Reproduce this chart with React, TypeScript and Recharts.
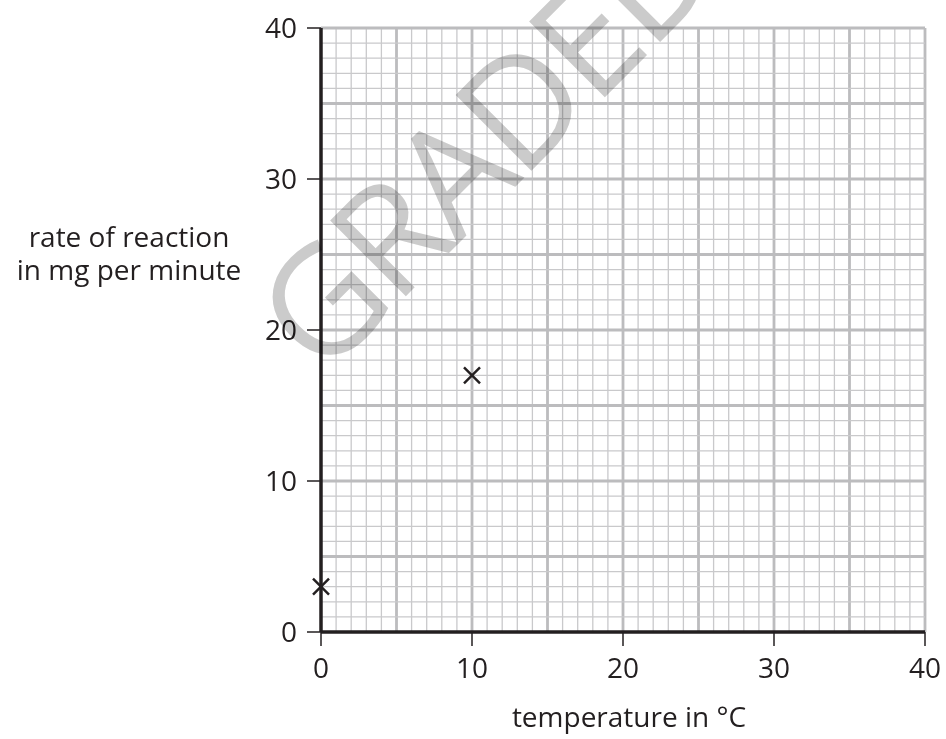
import React from "react";
import {
  ScatterChart,
  Scatter,
  XAxis,
  YAxis,
  ReferenceLine,
} from "recharts";

const temperatures = [0, 10];
const rates = [3, 17];
const xTicks = [0, 10, 20, 30, 40];
const yTicks = [0, 10, 20, 30, 40];
const xLabel = "temperature in °C";
const yLabelLines = ["rate of reaction", "in mg per minute"];
const watermark = "GRADED";

const points = temperatures.map((t, i) => ({ x: t, y: rates[i] }));
const gridValues = Array.from({ length: 40 }, (_, i) => i + 1);

const FONT = "'Open Sans', sans-serif";
const INK = "#231f20";

const Cross = (props: any) => {
  const { cx, cy } = props;
  const s = 8;
  return (
    <g stroke={INK} strokeWidth={2.5}>
      <line x1={cx - s} y1={cy - s} x2={cx + s} y2={cy + s} />
      <line x1={cx - s} y1={cy + s} x2={cx + s} y2={cy - s} />
    </g>
  );
};

const YLabel = () => (
  <text x={129} y={247} textAnchor="middle" fontFamily={FONT} fontSize={28} fill={INK}>
    <tspan x={129} y={247}>{yLabelLines[0]}</tspan>
    <tspan x={129} y={280}>{yLabelLines[1]}</tspan>
  </text>
);

const XLabel = () => (
  <text x={629} y={727} textAnchor="middle" fontFamily={FONT} fontSize={28} fill={INK}>
    {xLabel}
  </text>
);

export default function App() {
  return (
    <div style={{ position: "relative", width: 946, height: 739, overflow: "hidden", background: "#fff" }}>
      <style>{"body{margin:0}"}</style>
      <div style={{ position: "absolute", left: 0, top: 0, zIndex: 0 }}>
        <ScatterChart
          width={946}
          height={739}
          margin={{ top: 28, right: 21, bottom: 67, left: 261 }}
        >
          {gridValues.map((v) => (
            <ReferenceLine
              key={"v" + v}
              x={v}
              stroke={v % 5 === 0 ? "#bcbcbe" : "#c9c9cb"}
              strokeWidth={v % 5 === 0 ? 2.8 : 1.3}
            />
          ))}
          {gridValues.map((v) => (
            <ReferenceLine
              key={"h" + v}
              y={v}
              stroke={v % 5 === 0 ? "#bcbcbe" : "#c9c9cb"}
              strokeWidth={v % 5 === 0 ? 2.8 : 1.3}
            />
          ))}
          <XAxis
            type="number"
            dataKey="x"
            domain={[0, 40]}
            ticks={xTicks}
            height={40}
            axisLine={{ stroke: INK, strokeWidth: 3.5 }}
            tickLine={{ stroke: INK, strokeWidth: 1.5 }}
            tickSize={14}
            tickMargin={12}
            tick={{ fontFamily: FONT, fontSize: 28, fill: INK }}
            label={<XLabel />}
          />
          <YAxis
            type="number"
            dataKey="y"
            domain={[0, 40]}
            ticks={yTicks}
            width={60}
            axisLine={{ stroke: INK, strokeWidth: 3.5 }}
            tickLine={{ stroke: INK, strokeWidth: 1.5 }}
            tickSize={14}
            tickMargin={10}
            tick={{ fontFamily: FONT, fontSize: 28, fill: INK }}
            label={<YLabel />}
          />
          <Scatter data={points} shape={<Cross />} isAnimationActive={false} />
        </ScatterChart>
      </div>
      <svg
        width={946}
        height={739}
        style={{
          position: "absolute",
          left: 0,
          top: 0,
          zIndex: 1,
          mixBlendMode: "multiply",
          pointerEvents: "none",
        }}
      >
        <text
          x={322}
          y={380}
          transform="rotate(-45 322 380)"
          fontFamily={FONT}
          fontSize={150}
          fontWeight={400}
          letterSpacing={-5}
          fill="#cbcbcb"
        >
          {watermark}
        </text>
      </svg>
    </div>
  );
}
